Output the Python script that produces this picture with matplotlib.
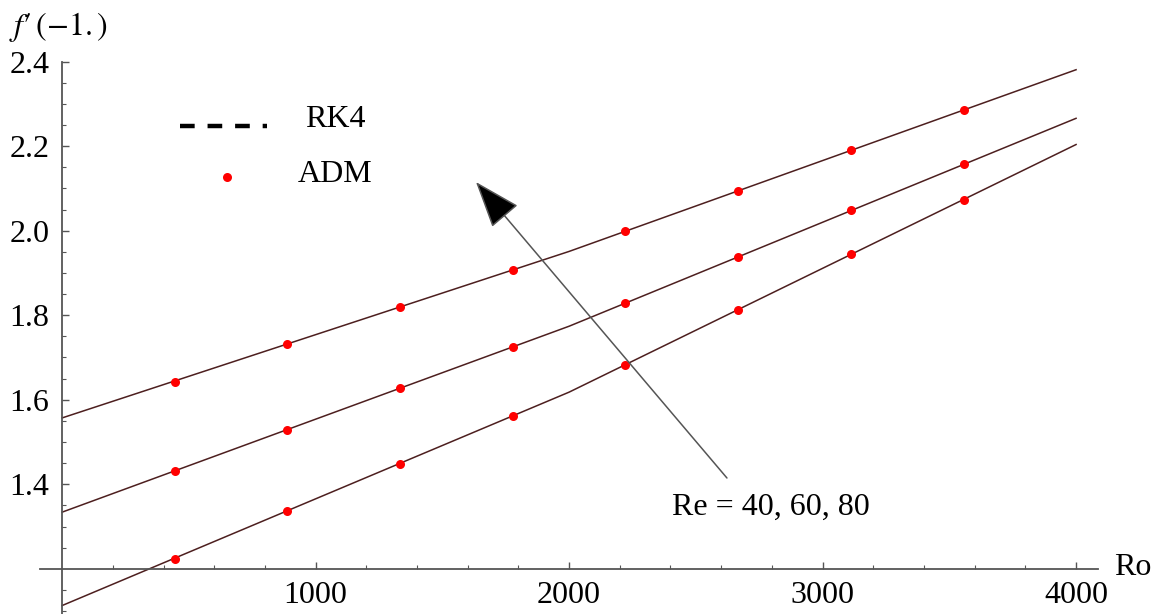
import matplotlib
matplotlib.use("Agg")
import matplotlib.pyplot as plt
import numpy as np

plt.rcParams['font.family'] = ['Liberation Serif', 'DejaVu Serif']
plt.rcParams['mathtext.fontset'] = 'stix'

# RK4 solution (line) for Re = 40, 60, 80
ro_rk4 = [0, 2000, 4000]
rk4_re40 = [1.113, 1.618, 2.204]
rk4_re60 = [1.334, 1.774, 2.266]
rk4_re80 = [1.557, 1.951, 2.381]

# ADM points
ro_adm = [444, 889, 1333, 1778, 2222, 2667, 3111, 3556]
adm_re40 = [1.222, 1.337, 1.449, 1.562, 1.683, 1.813, 1.944, 2.073]
adm_re60 = [1.431, 1.528, 1.628, 1.725, 1.830, 1.939, 2.049, 2.158]
adm_re80 = [1.643, 1.733, 1.820, 1.906, 1.999, 2.093, 2.191, 2.285]

x_ticks = [1000, 2000, 3000, 4000]
y_ticks = [1.4, 1.6, 1.8, 2.0, 2.2, 2.4]

fig = plt.figure(figsize=(11.62, 6.14), dpi=100)
ax = fig.add_axes([0, 0, 1, 1])

line_col = '#4d1f1f'
for y in [rk4_re40, rk4_re60, rk4_re80]:
    ax.plot(ro_rk4, y, color=line_col, lw=1.1, zorder=2)
for y in [adm_re40, adm_re60, adm_re80]:
    ax.plot(ro_adm, y, 'o', color='#ff0000', ms=6.5, mec='none', zorder=3)

ax.set_xlim(-245, 4339)
ax.set_ylim(1.093, 2.546)

# axes through (0, 1.2) like mathematica
axis_col = '#555555'
ax.spines['left'].set_position(('data', 0))
ax.spines['bottom'].set_position(('data', 1.2))
ax.spines['right'].set_visible(False)
ax.spines['top'].set_visible(False)
ax.spines['left'].set_bounds(1.093, 2.4)
ax.spines['bottom'].set_bounds(-87, 4085)
for s in ['left', 'bottom']:
    ax.spines[s].set_color(axis_col)
    ax.spines[s].set_linewidth(1.3)

ax.set_xticks(x_ticks)
ax.set_yticks(y_ticks)
ax.set_xticks([v for v in range(200, 4001, 200) if v % 1000 != 0], minor=True)
ax.set_yticks([round(v, 2) for v in np.arange(1.10, 2.40, 0.05) if round(v * 100) % 20 != 0], minor=True)
ax.set_xticklabels([str(v) for v in x_ticks])
ax.set_yticklabels([f"{v:.1f}" for v in y_ticks])

ax.tick_params(axis='x', which='both', direction='in', color=axis_col, labelsize=23, pad=9)
ax.tick_params(axis='y', which='both', direction='in', color=axis_col, labelsize=23, pad=9)
ax.tick_params(which='major', length=5, width=1)
ax.tick_params(which='minor', length=3, width=0.8)

# axis labels
fig.text(0.008, 0.956, r"$f\prime\,(-1.)$", fontsize=23, va='center', ha='left')
fig.text(0.959, 0.075, "Ro", fontsize=23, va='center', ha='left')

# legend drawn by hand
ax.plot([0.155, 0.230], [0.795, 0.795], transform=ax.transAxes, color='black',
        lw=3.2, dashes=(3.3, 2.9), solid_capstyle='butt', dash_capstyle='butt')
ax.text(0.2625, 0.805, "RK4", transform=ax.transAxes, fontsize=23, va='center', ha='left')
ax.plot([0.195], [0.712], 'o', transform=ax.transAxes, color='#ff0000', ms=6.5, mec='none')
ax.text(0.2565, 0.715, "ADM", transform=ax.transAxes, fontsize=23, va='center', ha='left')

# Re arrow
ax.annotate("", xy=(0.4096, 0.7036), xytext=(0.6256, 0.2215),
            xycoords='axes fraction', textcoords='axes fraction',
            arrowprops=dict(arrowstyle='-|>,head_length=1.5,head_width=0.55',
                            mutation_scale=20, fc='black', ec='#555555', lw=1.1,
                            shrinkA=0, shrinkB=0))
ax.text(0.578, 0.174, "Re = 40, 60, 80", transform=ax.transAxes, fontsize=23,
        va='center', ha='left')

fig.savefig("out.png", dpi=100)
